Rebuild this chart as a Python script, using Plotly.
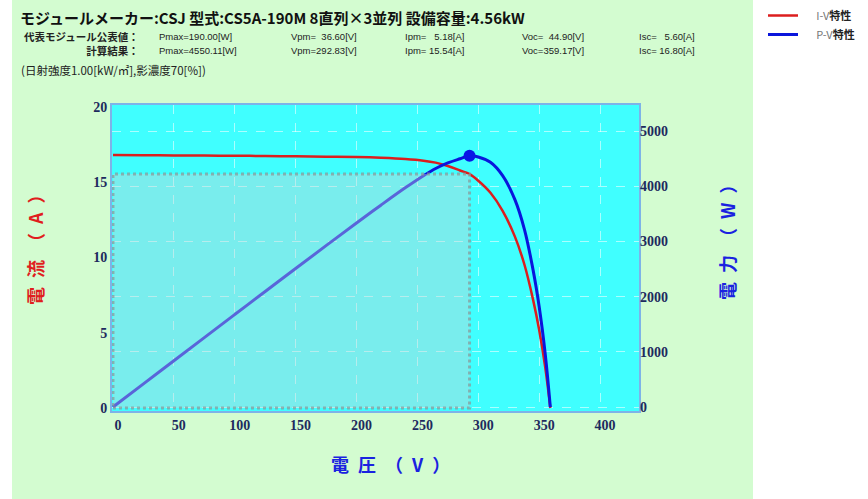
import plotly.graph_objects as go

# ---------------- data ----------------
voltage = [0, 25, 50, 75, 100, 125, 150, 175, 200, 220, 240, 255, 265, 275, 285,
           292.83, 300, 310, 320, 330, 338, 345, 350, 355, 359.17]
current = [16.80, 16.79, 16.78, 16.77, 16.76, 16.74, 16.72, 16.70, 16.67, 16.62,
           16.54, 16.43, 16.30, 16.08, 15.78, 15.54, 15.10, 14.30, 13.10, 11.40,
           9.50, 7.20, 5.20, 2.70, 0.00]
power = [0, 420, 839, 1258, 1676, 2093, 2508, 2923, 3334, 3656, 3970, 4190, 4320,
         4422, 4497, 4550.11, 4530, 4433, 4192, 3762, 3211, 2484, 1820, 959, 0]
vpm, ipm, pmax = 292.83, 15.54, 4550.11

x_ticks = [0, 50, 100, 150, 200, 250, 300, 350, 400]
i_ticks = [0, 5, 10, 15, 20]
p_ticks = [0, 1000, 2000, 3000, 4000, 5000]

title_text = "モジュールメーカー:CSJ 型式:CS5A-190M 8直列×3並列 設備容量:4.56kW"
row_labels = ["代表モジュール公表値：", "計算結果："]
col_pmax = ["Pmax=190.00[W]", "Pmax=4550.11[W]"]
col_vpm = ["Vpm=\u200736.60[V]", "Vpm=292.83[V]"]
col_ipm = ["Ipm= \u20075.18[A]", "Ipm= 15.54[A]"]
col_voc = ["Voc=\u200744.90[V]", "Voc=359.17[V]"]
col_isc = ["Isc= \u20075.60[A]", "Isc= 16.80[A]"]
cond_text = "(日射強度1.00[kW/㎡],影濃度70[%])"
legend_names = ["I-V", "P-V"]

# ---------------- layout helpers (pixel -> paper) ----------------
W, H = 868, 499
L, R, T, B = 112, 639, 105, 411


def px(x):
    return (x - L) / (R - L)


def py(y):
    return (B - y) / (B - T)


JP = "Noto Sans CJK JP"
SERIF = "Liberation Serif"
SANS = "Liberation Sans"
TICKC = "#1d2a5e"
GREEN = "#d3fcd0"
SP = "\u2002"


def legend_label(s):
    return "\u2003\u2009<span style='color:#777'>" + s + "</span><b>特性</b>"


fig = go.Figure()
fig.add_trace(go.Scatter(x=voltage, y=current, mode="lines", yaxis="y",
                         line=dict(color="#dc1e1e", width=2.5, shape="spline"),
                         name=legend_label(legend_names[0])))
fig.add_trace(go.Scatter(x=voltage, y=power, mode="lines", yaxis="y2",
                         line=dict(color="#0a16dc", width=3, shape="spline"),
                         name=legend_label(legend_names[1])))
fig.add_trace(go.Scatter(x=[vpm], y=[pmax], mode="markers", yaxis="y2",
                         marker=dict(color="#0a16e6", size=12), showlegend=False))

shapes = [
    # white areas outside the green panel
    dict(type="rect", xref="paper", yref="paper", x0=px(0), x1=px(12), y0=py(0), y1=py(H),
         fillcolor="white", line_width=0, layer="below"),
    dict(type="rect", xref="paper", yref="paper", x0=px(753), x1=px(W), y0=py(0), y1=py(H),
         fillcolor="white", line_width=0, layer="below"),
    # maximum power rectangle
    dict(type="rect", xref="x", yref="y", x0=0, x1=vpm, y0=0, y1=ipm,
         fillcolor="rgba(200,212,212,0.42)",
         line=dict(color="rgba(140,150,150,0.7)", width=3, dash="dot"), layer="above"),
]

row_y = [37, 50.6]
annotations = [
    dict(text=title_text, x=px(18), y=py(18), xanchor="left", yanchor="middle",
         font=dict(family=JP, size=15, color="#111", weight="bold")),
    dict(text="<br>".join(row_labels), x=px(141), y=py(43.8), xanchor="right", yanchor="middle",
         align="right", font=dict(family=JP, size=10.5, color="#222", weight="bold")),
    dict(text=cond_text, x=px(19), y=py(70), xanchor="left", yanchor="middle",
         font=dict(family=JP, size=11.5, color="#222")),
    # axis titles
    dict(text=SP.join(["電", "流", "（", "A", "）"]), x=px(35), y=py(245), textangle=-90,
         xanchor="center", yanchor="middle",
         font=dict(family=JP, size=18, color="#e01e1e", weight="bold")),
    dict(text=SP.join(["電", "力", "（", "W", "）"]), x=px(727), y=py(238), textangle=-90,
         xanchor="center", yanchor="middle",
         font=dict(family=JP, size=18, color="#1a22e0", weight="bold")),
    dict(text=SP.join(["電", "圧", "（", "V", "）"]), x=px(390), y=py(464),
         xanchor="center", yanchor="middle",
         font=dict(family=JP, size=18, color="#1a22e0", weight="bold")),
]
for k in range(2):
    for xpos, col in zip([157, 289, 403, 520, 637], [col_pmax, col_vpm, col_ipm, col_voc, col_isc]):
        annotations.append(dict(text=col[k], x=px(xpos), y=py(row_y[k]), xanchor="left",
                                yanchor="middle",
                                font=dict(family=SANS, size=9.5, color="#222")))
for a in annotations:
    a.update(xref="paper", yref="paper", showarrow=False)

tickfont = dict(family=SERIF, size=14, color=TICKC, weight="bold")
gridstyle = dict(showgrid=True, gridcolor="rgba(255,255,255,0.55)", gridwidth=1, griddash="dash")

fig.update_layout(
    width=W, height=H,
    margin=dict(l=L, r=W - R, t=T, b=H - B, autoexpand=False),
    paper_bgcolor=GREEN,
    plot_bgcolor="#40ffff",
    shapes=shapes,
    annotations=annotations,
    xaxis=dict(range=[-0.8, 432], tickvals=x_ticks, tickfont=tickfont, ticks="",
               zeroline=False, showline=True, linecolor="#7db3e8", linewidth=2, mirror=True,
               ticklabelshift=5, automargin=False, **gridstyle),
    yaxis=dict(range=[-0.2, 20.13], tickvals=i_ticks, tickfont=tickfont, ticks="",
               showgrid=False, zeroline=False, showline=True, linecolor="#7db3e8",
               linewidth=2, mirror=True, automargin=False),
    yaxis2=dict(range=[-72, 5471], tickvals=p_ticks, tickfont=tickfont, ticks="",
                overlaying="y", side="right", zeroline=False, showline=False,
                automargin=False, **gridstyle),
    legend=dict(x=px(763), y=py(1), xanchor="left", yanchor="top",
                bgcolor="rgba(0,0,0,0)", font=dict(family=JP, size=11, color="#222"),
                tracegroupgap=0),
    showlegend=True,
)

fig.write_html("out.html", config={"displayModeBar": False},
               post_script="document.body.style.margin='0';document.body.style.padding='0';")
